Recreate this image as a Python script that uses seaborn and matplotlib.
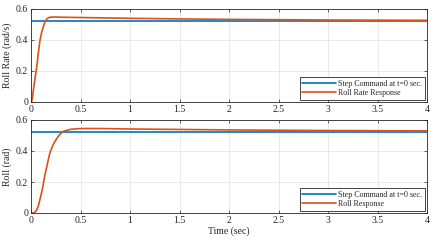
import matplotlib
matplotlib.use("Agg")
import matplotlib.pyplot as plt
import seaborn as sns
import pandas as pd

# Data
t_rate = [0, 0.01, 0.024, 0.04, 0.058, 0.075, 0.091, 0.11, 0.125, 0.14, 0.159, 0.175, 0.19, 0.22, 0.25, 0.3, 0.5, 1.0, 1.5, 2.0, 2.5, 3.0, 3.5, 4.0]
rate_resp = [0, 0.01, 0.075, 0.15, 0.227, 0.32, 0.40, 0.455, 0.487, 0.515, 0.535, 0.543, 0.547, 0.548, 0.548, 0.547, 0.545, 0.540, 0.536, 0.533, 0.531, 0.529, 0.528, 0.527]
t_roll = [0, 0.024, 0.04, 0.058, 0.075, 0.09, 0.11, 0.125, 0.14, 0.16, 0.175, 0.19, 0.21, 0.226, 0.245, 0.26, 0.28, 0.294, 0.33, 0.4, 0.5, 0.7, 1.0, 1.5, 2.0, 2.5, 3.0, 3.5, 4.0]
roll_resp = [0, 0.0, 0.006, 0.02, 0.048, 0.086, 0.14, 0.19, 0.245, 0.30, 0.345, 0.386, 0.42, 0.444, 0.465, 0.48, 0.498, 0.51, 0.528, 0.540, 0.545, 0.545, 0.542, 0.539, 0.536, 0.534, 0.532, 0.531, 0.530]
step_t = [0, 4]
step_val = [0.5236, 0.5236]

x_ticks = [0, 0.5, 1, 1.5, 2, 2.5, 3, 3.5, 4]
x_tick_labels = ["0", "0.5", "1", "1.5", "2", "2.5", "3", "3.5", "4"]
y_ticks = [0, 0.2, 0.4, 0.6]
y_tick_labels = ["0", "0.2", "0.4", "0.6"]

sns.set_style("ticks")
plt.rcParams['font.family'] = ['Liberation Serif', 'DejaVu Serif']

blue = "#0072BD"
orange = "#D95319"

fig = plt.figure(figsize=(4.36, 2.42), dpi=100)
ax1 = fig.add_axes([31/436, 1-102/242, 396/436, 93/242])
ax2 = fig.add_axes([31/436, 1-213/242, 396/436, 93/242])

panels = [
    (ax1, t_rate, rate_resp, "Roll Rate (rad/s)", "Roll Rate Response"),
    (ax2, t_roll, roll_resp, "Roll (rad)", "Roll Response"),
]
for ax, tt, yy, ylab, lab in panels:
    sns.lineplot(x=step_t, y=step_val, ax=ax, color=blue, linewidth=1.2,
                 label="Step Command at t=0 sec.")
    sns.lineplot(x=tt, y=yy, ax=ax, color=orange, linewidth=1.2, label=lab)
    ax.set_xlim(0, 4)
    ax.set_ylim(0, 0.6)
    ax.set_xticks(x_ticks)
    ax.set_xticklabels(x_tick_labels)
    ax.set_yticks(y_ticks)
    ax.set_yticklabels(y_tick_labels)
    ax.grid(True, color="#e6e6e6", linewidth=0.6)
    ax.set_axisbelow(True)
    ax.tick_params(direction="in", top=True, right=True, length=2.5, width=0.5,
                   labelsize=7, colors="#262626", pad=2)
    for s in ax.spines.values():
        s.set_visible(True)
        s.set_linewidth(0.6)
        s.set_color("#262626")
    ax.set_ylabel(ylab, fontsize=7, color="#262626", labelpad=3)
    ax.set_xlabel("")
    leg = ax.legend(loc="lower right", fontsize=5.8, frameon=True, fancybox=False,
                    edgecolor="#262626", framealpha=1, borderpad=0.3,
                    handlelength=4.2, handletextpad=0.3, labelspacing=0.2,
                    borderaxespad=0.3)
    leg.get_frame().set_linewidth(0.6)

ax2.set_xlabel("Time (sec)", fontsize=7, color="#262626", labelpad=1)

fig.savefig("out.png", dpi=100)
